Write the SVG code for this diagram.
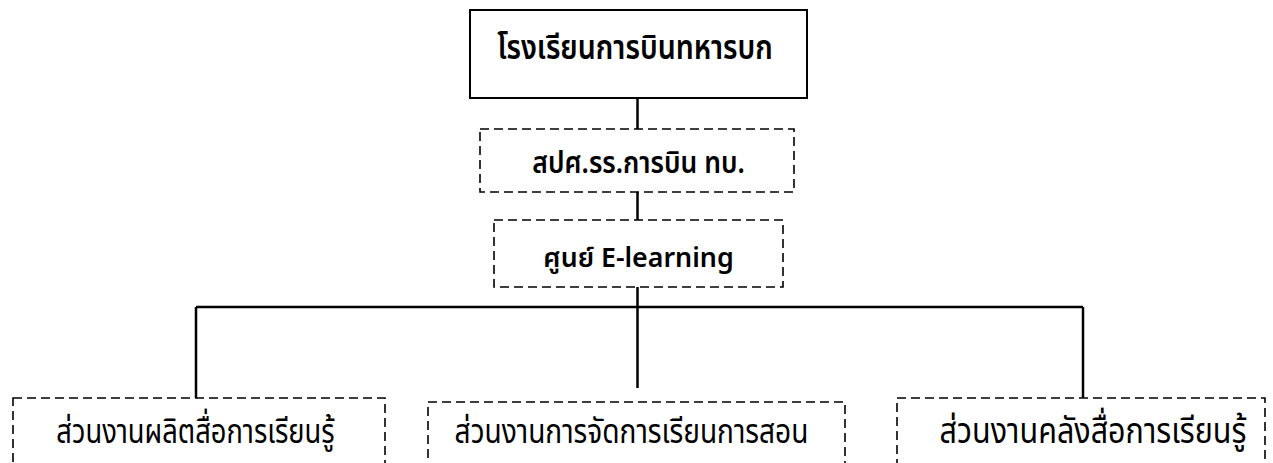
<svg xmlns="http://www.w3.org/2000/svg" width="1273" height="463" viewBox="0 0 1273 463">
<style>
.solid{fill:#fff;stroke:#000;stroke-width:2}
.dash{fill:#fff;stroke:#000;stroke-width:1.6;stroke-dasharray:9 5}
.conn{fill:none;stroke:#000;stroke-width:2.5}
text{font-family:"Noto Sans","Noto Sans Thai","DejaVu Sans",sans-serif;fill:#000;text-anchor:middle}
.b{font-weight:600}
</style>
<rect width="1273" height="463" fill="#fff"/>
<g id="connectors">
<path class="conn" d="M637.5 98V129M637.5 192V220M637.5 287V388M196 307H1083M196 307V398M1083 307V398"/>
</g>
<g id="n1"><rect class="solid" x="470" y="10" width="337" height="88"/><text class="b" font-size="28.5" transform="translate(635,59) scale(1,1.2)">โรงเรียนการบินทหารบก</text></g>
<g id="n2"><rect class="dash" x="480" y="129" width="314" height="63"/><text class="b" font-size="26.5" transform="translate(638.5,173) scale(1,1.15)">สปศ.รร.การบิน ทบ.</text></g>
<g id="n3"><rect class="dash" x="494" y="220" width="289" height="67"/><text class="b" font-size="26.8" transform="translate(638.5,267)">ศูนย์ E-learning</text></g>
<g id="n4"><rect class="dash" x="13" y="398" width="372" height="80"/><text font-size="27.3" transform="translate(195.5,443) scale(1,1.25)">ส่วนงานผลิตสื่อการเรียนรู้</text></g>
<g id="n5"><rect class="dash" x="428" y="402" width="417" height="80"/><text font-size="28.1" transform="translate(631.5,443) scale(1,1.2)">ส่วนงานการจัดการเรียนการสอน</text></g>
<g id="n6"><rect class="dash" x="897" y="398" width="368" height="80"/><text font-size="30.5" transform="translate(1093,443) scale(1,1.15)">ส่วนงานคลังสื่อการเรียนรู้</text></g>
</svg>
